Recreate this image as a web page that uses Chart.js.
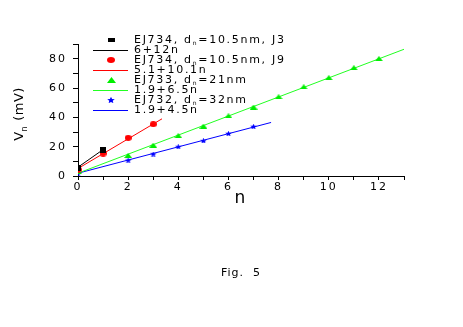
<!DOCTYPE html>
<html>
<head>
<meta charset="utf-8">
<script src="https://cdn.jsdelivr.net/npm/chart.js@4/dist/chart.umd.min.js"></script>
<style>
  html, body { margin: 0; padding: 0; background: #fff; }
  #wrap { width: 463px; height: 327px; position: relative; }
</style>
</head>
<body>
<div id="wrap"><canvas id="fig"></canvas></div>
<script>
// measured points
const j3N = [0, 1];
const j3V = [5.7, 17.4];
const j9N = [0, 1, 2, 3];
const j9V = [4.3, 15.3, 26, 35.3];
const ej733N = [0, 2, 3, 4, 5, 6, 7, 8, 9, 10, 11, 12];
const ej733V = [3, 14, 21, 27.5, 34, 41, 47, 54, 60.8, 67, 73.8, 80];
const ej732N = [0, 2, 3, 4, 5, 6, 7];
const ej732V = [2, 10.8, 15, 20, 24, 29, 33.8];

// fitted lines, end points
const fitJ3N = [0, 1];
const fitJ3V = [6, 18];
const fitJ9N = [0, 3.35];
const fitJ9V = [5.1, 39];
const fit733N = [0, 13];
const fit733V = [1.9, 86.4];
const fit732N = [0, 7.7];
const fit732V = [1.9, 36.5];

// "_n" marks a subscript n
const legendLabels = [
    "EJ734, d_n=10.5nm, J3", "6+12n",
    "EJ734, d_n=10.5nm, J9", "5.1+10.1n",
    "EJ733, d_n=21nm", "1.9+6.5n",
    "EJ732, d_n=32nm", "1.9+4.5n"
];
const xTicks = [0, 2, 4, 6, 8, 10, 12];
const yTicks = [0, 20, 40, 60, 80];

const FONT = "'DejaVu Sans', sans-serif";

function pts(xs, ys) {
    return xs.map((x, i) => ({ x: x, y: ys[i] }));
}

// markers in the original are a bit squashed, so draw them as small images
function marker(kind, w, h, color) {
    const c = document.createElement("canvas");
    c.width = w;
    c.height = h;
    const g = c.getContext("2d");
    g.fillStyle = color;
    g.beginPath();
    if (kind === "rect") {
        g.rect(0, 0, w, h);
    } else if (kind === "circle") {
        g.ellipse(w / 2, h / 2, w / 2, h / 2, 0, 0, Math.PI * 2);
    } else if (kind === "triangle") {
        g.moveTo(w / 2, 0);
        g.lineTo(w, h);
        g.lineTo(0, h);
    } else {
        const cx = w / 2, cy = h / 2 + 0.3;
        for (let i = 0; i < 10; i++) {
            const k = i % 2 === 0 ? 1 : 0.45;
            const a = -Math.PI / 2 + i * Math.PI / 5;
            g.lineTo(cx + k * (w / 2) * Math.cos(a), cy + k * (h / 2 + 0.5) * Math.sin(a));
        }
    }
    g.closePath();
    g.fill();
    return c;
}

function pointSet(label, xs, ys, color, img, legImg) {
    return {
        label: label,
        data: pts(xs, ys),
        showLine: false,
        pointStyle: img,
        legendImg: legImg,
        pointRadius: 4,
        backgroundColor: color,
        borderColor: color,
        borderWidth: 0
    };
}
function lineSet(label, xs, ys, color) {
    return {
        label: label,
        data: pts(xs, ys),
        showLine: true,
        pointRadius: 0,
        borderColor: color,
        backgroundColor: color,
        borderWidth: 1
    };
}

function drawRich(ctx, str, x, y, size) {
    const parts = str.split("_n");
    let cx = x;
    parts.forEach((p, i) => {
        ctx.font = size + "px " + FONT;
        ctx.fillText(p, cx, y);
        cx += ctx.measureText(p).width;
        if (i < parts.length - 1) {
            ctx.font = Math.round(size * 0.55) + "px " + FONT;
            ctx.fillText("n", cx, y + 3);
            cx += ctx.measureText("n").width;
        }
    });
}

const overlay = {
    id: "overlay",
    beforeDraw(chart) {
        chart.ctx.letterSpacing = "2px";
    },
    afterDraw(chart) {
        const ctx = chart.ctx;
        ctx.letterSpacing = "0px";
        ctx.save();
        ctx.fillStyle = "#000";
        ctx.textBaseline = "middle";
        ctx.letterSpacing = "1.7px";

        // legend inside plot area
        chart.data.datasets.forEach((ds, i) => {
            const y = 40 + i * 10;
            if (ds.showLine) {
                ctx.strokeStyle = ds.borderColor;
                ctx.lineWidth = 1;
                ctx.beginPath();
                ctx.moveTo(93, y + 0.5);
                ctx.lineTo(128, y + 0.5);
                ctx.stroke();
            } else {
                const im = ds.legendImg;
                ctx.drawImage(im, Math.round(111 - im.width / 2), Math.round(y - im.height / 2));
            }
            ctx.fillStyle = "#000";
            ctx.textAlign = "left";
            drawRich(ctx, legendLabels[i], 134, y, 11);
        });

        // y title, rotated
        ctx.translate(20, 114);
        ctx.rotate(-Math.PI / 2);
        ctx.textAlign = "left";
        ctx.letterSpacing = "0.5px";
        ctx.font = "13px " + FONT;
        const total = ctx.measureText("V").width + 6 + ctx.measureText(" (mV)").width;
        let x0 = -total / 2;
        ctx.fillText("V", x0, 0);
        x0 += ctx.measureText("V").width;
        ctx.font = "8px " + FONT;
        ctx.fillText("n", x0, 5);
        x0 += 6;
        ctx.font = "13px " + FONT;
        ctx.fillText(" (mV)", x0, 0);
        ctx.restore();

        ctx.save();
        ctx.fillStyle = "#000";
        ctx.textBaseline = "middle";
        ctx.textAlign = "left";
        ctx.letterSpacing = "1px";
        ctx.font = "11px " + FONT;
        ctx.fillText("Fig.  5", 221, 273);
        ctx.restore();
    }
};

new Chart(document.getElementById("fig"), {
    type: "scatter",
    data: {
        datasets: [
            pointSet(legendLabels[0], j3N, j3V, "#000000",
                marker("rect", 6, 6, "#000000"), marker("rect", 7, 4, "#000000")),
            lineSet(legendLabels[1], fitJ3N, fitJ3V, "#000000"),
            pointSet(legendLabels[2], j9N, j9V, "#ff0000",
                marker("circle", 7, 6, "#ff0000"), marker("circle", 8, 6, "#ff0000")),
            lineSet(legendLabels[3], fitJ9N, fitJ9V, "#ff0000"),
            pointSet(legendLabels[4], ej733N, ej733V, "#00ff00",
                marker("triangle", 8, 5, "#00ee00"), marker("triangle", 9, 6, "#00ee00")),
            lineSet(legendLabels[5], fit733N, fit733V, "#22ff22"),
            pointSet(legendLabels[6], ej732N, ej732V, "#0000ff",
                marker("star", 7, 5, "#0000ff"), marker("star", 8, 6, "#0000ff")),
            lineSet(legendLabels[7], fit732N, fit732V, "#0000ff")
        ]
    },
    options: {
        responsive: true,
        maintainAspectRatio: false,
        animation: false,
        layout: { padding: { left: 12, right: 59, top: 44, bottom: 118 } },
        plugins: {
            legend: { display: false },
            tooltip: { enabled: false }
        },
        scales: {
            x: {
                type: "linear",
                min: 0,
                max: 13,
                afterFit: (s) => { s.height = 33; },
                afterBuildTicks: (s) => {
                    s.ticks = [];
                    for (let v = 0; v <= 13; v++) s.ticks.push({ value: v });
                },
                border: { display: true, color: "#000", width: 1 },
                grid: { drawOnChartArea: false, drawTicks: true, tickLength: 4, color: "#000",
                        tickColor: "#000" },
                ticks: {
                    autoSkip: false,
                    maxRotation: 0,
                    padding: 1,
                    color: "#000",
                    font: { family: FONT, size: 11 },
                    callback: (v) => xTicks.includes(v) ? String(v) : ""
                },
                title: {
                    display: true,
                    text: "n",
                    color: "#000",
                    font: { family: FONT, size: 17 },
                    padding: { top: -2, bottom: 0 }
                }
            },
            y: {
                type: "linear",
                min: 0,
                max: 90,
                afterFit: (s) => { s.width = 66; },
                afterBuildTicks: (s) => {
                    s.ticks = [];
                    for (let v = 0; v <= 90; v += 10) s.ticks.push({ value: v });
                },
                border: { display: true, color: "#000", width: 1 },
                grid: { drawOnChartArea: false, drawTicks: true, tickLength: 5, color: "#000",
                        tickColor: "#000" },
                ticks: {
                    autoSkip: false,
                    padding: 6,
                    color: "#000",
                    font: { family: FONT, size: 11 },
                    callback: (v) => yTicks.includes(v) ? String(v) : ""
                }
            }
        }
    },
    plugins: [overlay]
});
</script>
</body>
</html>
